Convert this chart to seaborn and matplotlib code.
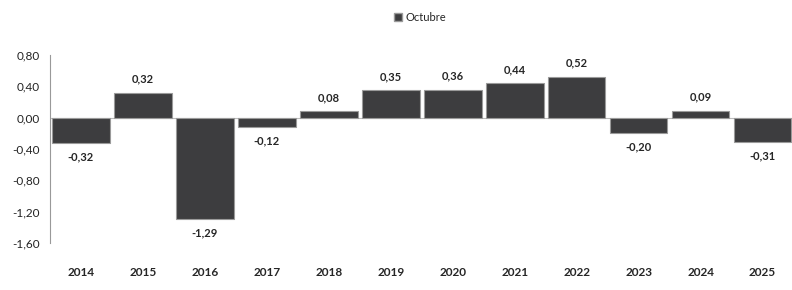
import matplotlib
matplotlib.use("Agg")
import matplotlib.pyplot as plt
from matplotlib.patches import Patch
import seaborn as sns

years = ["2014", "2015", "2016", "2017", "2018", "2019",
         "2020", "2021", "2022", "2023", "2024", "2025"]
values = [-0.32, 0.32, -1.29, -0.12, 0.08, 0.35, 0.36, 0.44, 0.52, -0.20, 0.09, -0.31]
yticks = [0.8, 0.4, 0.0, -0.4, -0.8, -1.2, -1.6]

sns.set_style("white")
plt.rcParams["font.family"] = ["Lato", "DejaVu Sans"]

bar_color = "#3d3d3f"

fig = plt.figure(figsize=(7.92, 2.90), dpi=100)
ax = fig.add_axes([0.063, 0.162, 0.939, 0.648])

sns.barplot(x=years, y=values, color=bar_color, width=0.93, saturation=1,
            edgecolor="#9a9a9a", linewidth=0.8, ax=ax)

ax.set_xlim(-0.5, 11.5)
ax.set_ylim(-1.6, 0.8)
ax.set_yticks(yticks)
ax.set_yticklabels([f"{t:.2f}".replace(".", ",") for t in yticks], fontsize=8.5, color="#222222")

ax.axhline(0, color="#bbbbbb", linewidth=0.8, zorder=0)
for s in ["top", "right", "bottom"]:
    ax.spines[s].set_visible(False)
ax.spines["left"].set_color("#999999")
ax.spines["left"].set_linewidth(0.8)
ax.tick_params(axis="y", length=3, width=0.8, color="#999999", pad=4)
ax.tick_params(axis="x", length=0, pad=17)
for lbl in ax.get_xticklabels():
    lbl.set_fontweight("bold")
    lbl.set_fontsize(8.5)
ax.set_xlabel("")
ax.set_ylabel("")

for i, v in enumerate(values):
    txt = f"{v:.2f}".replace(".", ",")
    if v >= 0:
        ax.annotate(txt, (i, v), xytext=(0, 6), textcoords="offset points",
                    ha="center", va="bottom", fontsize=8, fontweight="bold")
    else:
        ax.annotate(txt, (i, v), xytext=(0, -6), textcoords="offset points",
                    ha="center", va="top", fontsize=8, fontweight="bold")

fig.legend(handles=[Patch(facecolor=bar_color, edgecolor="#9a9a9a", label="Octubre")],
           loc="center", bbox_to_anchor=(0.53, 0.94), frameon=False, fontsize=8,
           handlelength=0.7, handleheight=0.7, handletextpad=0.3)

fig.savefig("out.png", dpi=100)
